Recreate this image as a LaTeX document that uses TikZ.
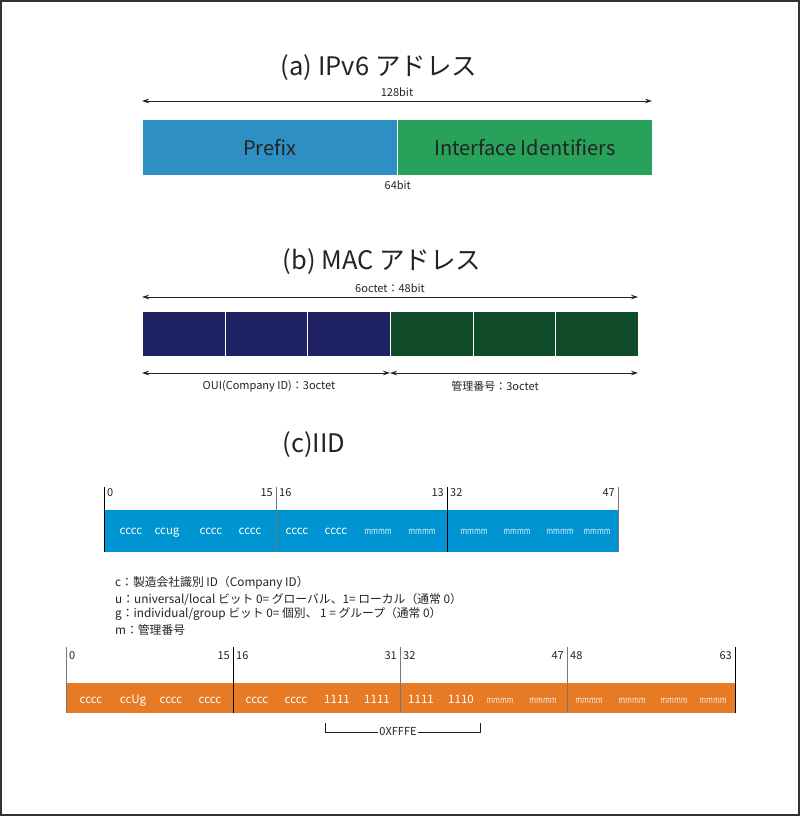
\documentclass[tikz,border=0pt]{standalone}
\usepackage{fontspec}
\usepackage{graphicx}
\setmainfont{Noto Sans CJK JP}
\usetikzlibrary{arrows.meta}

\definecolor{prefixblue}{RGB}{46,143,196}
\definecolor{ifidgreen}{RGB}{40,161,90}
\definecolor{ouinavy}{RGB}{31,34,98}
\definecolor{serialgreen}{RGB}{17,76,42}
\definecolor{iidblue}{RGB}{0,148,210}
\definecolor{euiorange}{RGB}{230,122,37}
\definecolor{tickgray}{RGB}{120,120,120}
\definecolor{inkgray}{RGB}{35,35,35}

\newcommand{\mfield}{\scalebox{0.78}[1]{mmmm}}

\tikzset{
  headline/.style={font=\fontsize{25.5}{29}\selectfont, text=inkgray},
  small/.style={font=\fontsize{11}{13}\selectfont, text=inkgray, inner sep=1pt},
  legend/.style={font=\fontsize{11.8}{14}\selectfont, text=inkgray, anchor=west, inner sep=0pt},
  bitlabel/.style={font=\fontsize{11.5}{13}\selectfont, text=white, inner sep=0pt,
    text height=6pt, text depth=0pt},
  mlabel/.style={font=\fontsize{9.5}{10}\selectfont, text=white, text opacity=0.85, inner sep=0pt,
    text height=6pt, text depth=0pt},
  span/.style={{Stealth[length=7pt,width=4.5pt]}-{Stealth[length=7pt,width=4.5pt]}, line width=0.7pt, inkgray},
  block/.style={anchor=north west, inner sep=0pt, draw=white, line width=0.8pt},
  bitmark/.style={line width=1pt},
}

\begin{document}
\begin{tikzpicture}[x=1pt,y=-1pt]
  \useasboundingbox (0,0) rectangle (800,816);
  \draw[line width=2pt, black!80] (1,1) rectangle (799,815);

  % (a) IPv6 address
  \node[headline] (ttla) at (379,68) {(a) IPv6 アドレス};
  \coordinate (al) at (142,101);
  \coordinate (ar) at (652,101);
  \draw[span] (al) -- node[small, above=3pt] (a128) {128bit} (ar);
  \node[block, fill=prefixblue, minimum width=255, minimum height=56,
        font=\fontsize{20}{24}\selectfont, text=inkgray] (prefix) at (142,119) {Prefix};
  \node[block, fill=ifidgreen, minimum width=255, minimum height=56,
        font=\fontsize{20}{24}\selectfont, text=inkgray] (ifid) at (397,119) {Interface Identifiers};
  \node[small, below=4pt] (a64) at (prefix.south east) {64bit};

  % (b) MAC address
  \node[headline] (ttlb) at (382,262) {(b) MAC アドレス};
  \coordinate (bl) at (142,297);
  \coordinate (br) at (638,297);
  \draw[span] (bl) -- node[small, above=3pt] (b48) {6octet：48bit} (br);
  \foreach \i in {0,...,5}{
    \ifnum\i<3 \def\octcol{ouinavy}\else\def\octcol{serialgreen}\fi
    \node[block, fill=\octcol, minimum width=82.67, minimum height=45]
      (oct\i) at ({142+82.67*\i},311) {};
  }
  \coordinate (ouil) at (142,373);
  \coordinate (ouir) at (390,373);
  \coordinate (serr) at (638,373);
  \draw[span] (ouil) -- (ouir);
  \draw[span] (ouir) -- (serr);
  \node[small] (oui) at (269,386) {OUI(Company ID)：3octet};
  \node[small] (serial) at (495,386) {管理番号：3octet};

  % (c) IID
  \node[headline] (ttlc) at (314,445) {(c)IID};
  \node[anchor=north west, fill=iidblue, minimum width=514, minimum height=42,
        inner sep=0pt] (iidbar) at (104,510) {};
  \foreach \x/\c in {104/black, 276/tickgray, 447/black, 618/tickgray}
    \draw[bitmark, draw=\c] (\x,487) -- (\x,552);
  \foreach \x/\n/\a [count=\k] in {106/0/west, 274/15/east, 278/16/west,
      445/13/east, 449/32/west, 616/47/east}
    \node[small, anchor=\a] (iidnum\k) at (\x,493) {\n};
  \foreach \x/\t [count=\k] in {131/cccc, 167/ccug, 211/cccc, 250/cccc,
      297/cccc, 336/cccc}
    \node[bitlabel] (iidbit\k) at (\x,531) {\t};
  \foreach \x [count=\k] in {378, 422, 474, 517, 560, 597}
    \node[mlabel] (iidm\k) at (\x,531) {\mfield};

  % legend
  \node[legend] (legc) at (115,583) {c：製造会社識別 ID（Company ID）};
  \node[legend] (legu) at (115,599) {u：universal/local ビット 0= グローバル、1= ローカル（通常 0）};
  \node[legend] (legg) at (115,614) {g：individual/group ビット 0= 個別、 1 = グループ（通常 0）};
  \node[legend] (legm) at (115,630) {m：管理番号};

  % modified EUI-64
  \node[anchor=north west, fill=euiorange, minimum width=669, minimum height=30,
        inner sep=0pt] (euibar) at (66,683) {};
  \foreach \x/\c in {66/tickgray, 233/black, 400/tickgray, 567/tickgray, 735/black}
    \draw[bitmark, draw=\c] (\x,647) -- (\x,713);
  \foreach \x/\n/\a [count=\k] in {68/0/west, 231/15/east, 235/16/west, 398/31/east,
      402/32/west, 565/47/east, 569/48/west, 733/63/east}
    \node[small, anchor=\a] (euinum\k) at (\x,656) {\n};
  \foreach \x/\t [count=\k] in {91/cccc, 133/ccUg, 171/cccc, 210/cccc, 257/cccc,
      296/cccc, 337/1111, 377/1111, 421/1111, 461/1110}
    \node[bitlabel] (euibit\k) at (\x,700) {\t};
  \foreach \x [count=\k] in {500, 543, 589, 632, 674, 713}
    \node[mlabel] (euim\k) at (\x,700) {\mfield};

  % 0xFFFE bracket
  \coordinate (fxl) at (325,723);
  \coordinate (fxr) at (480,723);
  \node[small] (fffe) at (398,732) {0XFFFE};
  \draw[line width=0.8pt, inkgray] (fxl) |- (fffe.west);
  \draw[line width=0.8pt, inkgray] (fffe.east) -| (fxr);
\end{tikzpicture}
\end{document}
